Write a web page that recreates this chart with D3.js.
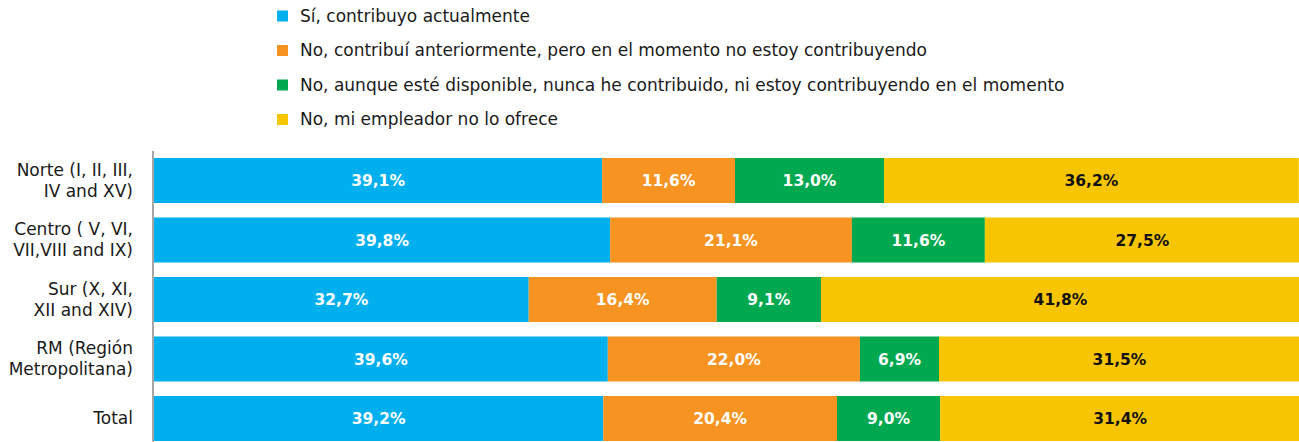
<!DOCTYPE html>
<html><head><meta charset="utf-8">
<script src="https://cdn.jsdelivr.net/npm/d3@7"></script>
<style>body{margin:0;background:#fff}svg{display:block}text{font-family:"DejaVu Sans",sans-serif}</style>
</head><body><svg id="c" width="1299" height="442"></svg>
<script>
const categories = [["Norte (I, II, III,","IV and XV)"],["Centro ( V, VI,","VII,VIII and IX)"],["Sur (X, XI,","XII and XIV)"],["RM (Región","Metropolitana)"],["Total"]];
const seriesNames = ["Sí, contribuyo actualmente","No, contribuí anteriormente, pero en el momento no estoy contribuyendo","No, aunque esté disponible, nunca he contribuido, ni estoy contribuyendo en el momento","No, mi empleador no lo ofrece"];
const s1 = [39.1, 39.8, 32.7, 39.6, 39.2];
const s2 = [11.6, 21.1, 16.4, 22.0, 20.4];
const s3 = [13.0, 11.6, 9.1, 6.9, 9.0];
const s4 = [36.2, 27.5, 41.8, 31.5, 31.4];
const colors = ["#00B0EE","#F79421","#00A84F","#F8C502"];
const labelColors = ["#fff","#fff","#fff","#111"];

const svg = d3.select("#c");
const series = [s1,s2,s3,s4];
const idx = d3.range(categories.length);
const x = d3.scaleLinear().domain([0,100]).range([154,1300]);
const y = d3.scaleBand().domain(idx).range([158, 441]).paddingInner(0.2437).paddingOuter(0);

// legend
const lg = svg.append("g");
seriesNames.forEach((n,i)=>{
  const yy = 16 + i*34.5;
  lg.append("rect").attr("x",277).attr("y",yy-5.5).attr("width",11).attr("height",11).attr("fill",colors[i]);
  lg.append("text").attr("x",300).attr("y",yy).attr("dy","0.35em").attr("font-size",17).attr("fill","#1a1a1a").text(n);
});

// bars
idx.forEach(ci=>{
  let cum = 0;
  series.forEach((s,si)=>{
    const v = s[ci];
    const x0 = x(cum), x1 = x(cum+v);
    svg.append("rect").attr("x",x0).attr("y",y(ci)).attr("width",x1-x0).attr("height",y.bandwidth()).attr("fill",colors[si]);
    svg.append("text").attr("x",(x0+x1)/2).attr("y",y(ci)+y.bandwidth()/2).attr("dy","0.36em")
      .attr("text-anchor","middle").attr("font-size",15.5).attr("font-weight","bold").attr("fill",labelColors[si])
      .text(d3.format(".1f")(v).replace(".",",")+"%");
    cum += v;
  });
});

// axis
const ax = svg.append("g").attr("transform","translate(153,0)")
  .call(d3.axisLeft(y).tickSize(0).tickFormat(""));
ax.select(".domain").attr("stroke","#A6A6A6").attr("stroke-width",2).attr("d","M0,151V442");
idx.forEach(ci=>{
  const lines = categories[ci];
  const cy = y(ci)+y.bandwidth()/2;
  const t = svg.append("text").attr("text-anchor","end").attr("font-size",17).attr("fill","#1a1a1a");
  lines.forEach((l,li)=>{
    t.append("tspan").attr("x",133).attr("y",cy + (li-(lines.length-1)/2)*21).attr("dy","0.35em").text(l);
  });
});
</script></body></html>
